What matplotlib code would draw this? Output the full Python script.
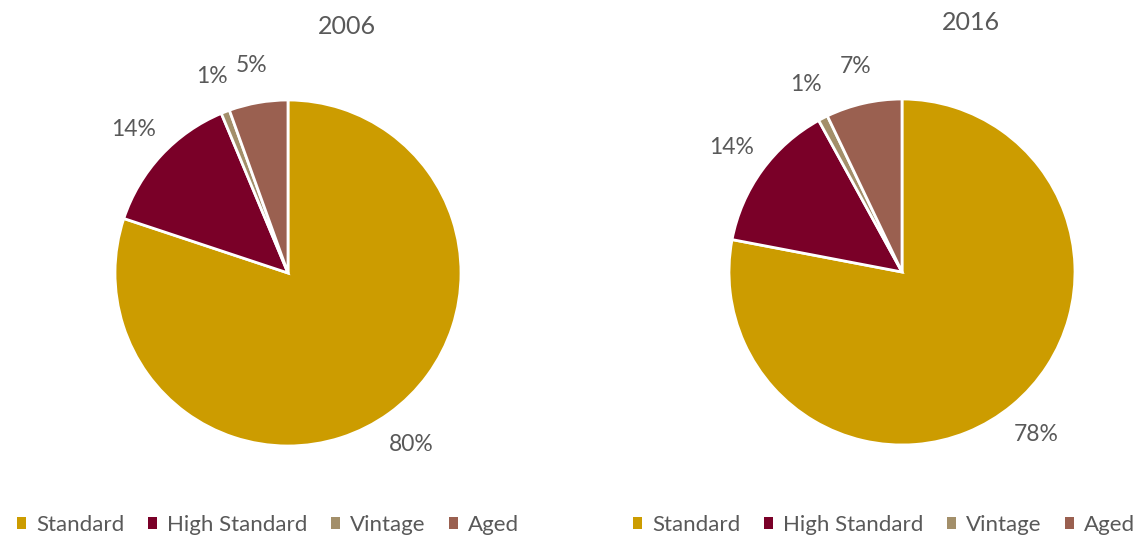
import matplotlib
matplotlib.use('Agg')
import matplotlib.pyplot as plt
from matplotlib.patches import Patch

plt.rcParams['font.family'] = ['Lato', 'DejaVu Sans']

categories = ['Standard', 'High Standard', 'Vintage', 'Aged']
shares_2006 = [80.1, 13.6, 0.8, 5.5]
shares_2016 = [78.0, 14.0, 0.9, 7.1]
labels_2006 = ['80%', '14%', '1%', '5%']
labels_2016 = ['78%', '14%', '1%', '7%']
colors = ['#CC9C00', '#7A0028', '#A38F6A', '#9A6050']
text_color = '#595959'

fig = plt.figure(figsize=(11.4, 5.37), dpi=100)

def draw_pie(rect, values, labels, title, title_x, title_y):
    ax = fig.add_axes(rect)
    wedges, texts = ax.pie(values, colors=colors, startangle=90, counterclock=False,
                           labels=labels, labeldistance=1.22,
                           wedgeprops=dict(edgecolor='white', linewidth=2))
    for t in texts:
        t.set_color(text_color)
        t.set_fontsize(16.5)
        t.set_horizontalalignment('center')
    ax.set_xlim(-1, 1)
    ax.set_ylim(-1, 1)
    ax.set_aspect('equal')
    fig.text(title_x, title_y, title, ha='center', va='center', fontsize=18, color=text_color)
    handles = [Patch(facecolor=c, edgecolor='none') for c in colors]
    return handles

w = 346 / 1140
h = 346 / 537
handles = draw_pie([288 / 1140 - w / 2, (537 - 273) / 537 - h / 2, w, h],
                   shares_2006, labels_2006, '2006', 347 / 1140, 1 - 26 / 537)
draw_pie([902 / 1140 - w / 2, (537 - 272) / 537 - h / 2, w, h],
         shares_2016, labels_2016, '2016', 971 / 1140, 1 - 23 / 537)

for cx in [268 / 1140, 884 / 1140]:
    fig.legend(handles, categories, loc='center', bbox_to_anchor=(cx, 1 - 525 / 537),
               ncol=4, frameon=False, fontsize=16, labelcolor=text_color,
               handlelength=0.42, handleheight=0.42, handletextpad=0.45, columnspacing=1.05)

plt.savefig('out.png', dpi=100)
